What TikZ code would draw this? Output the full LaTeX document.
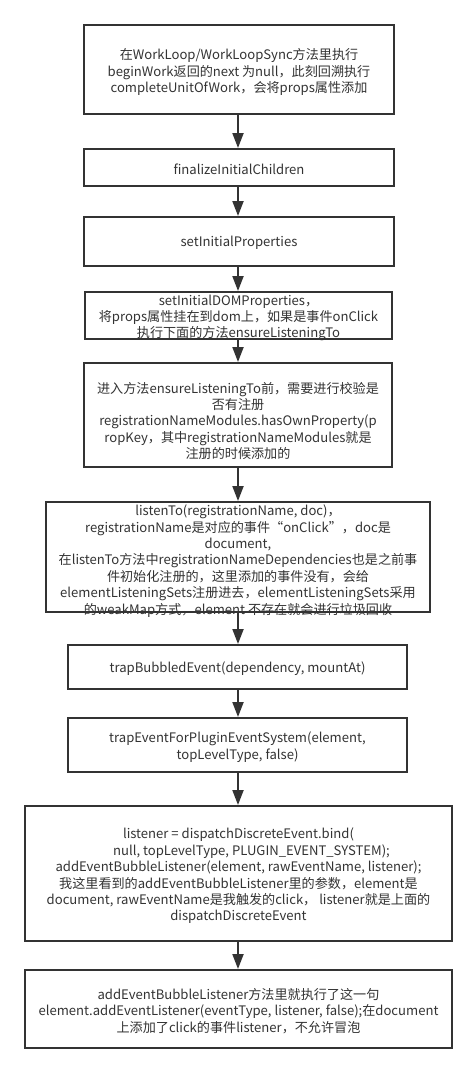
\documentclass[tikz,border=0pt]{standalone}
\usepackage{fontspec}
\setmainfont{Noto Sans CJK SC}
\usetikzlibrary{arrows.meta}
\definecolor{ink}{HTML}{333333}
\begin{document}
\begin{tikzpicture}[x=1pt,y=-1pt,
  box/.style={draw=ink,line width=2pt,rectangle,inner sep=0pt},
  txt/.style={text=ink,align=center,inner sep=0pt,font=\fontsize{13.1}{16.4}\selectfont},
  arr/.style={draw=ink,line width=2pt,-{Triangle[length=15pt,width=11pt]}}]
\useasboundingbox[fill=white] (0,0) rectangle (476,1074);
\node[box,minimum width=310pt,minimum height=89pt] (b1) at (239,69.5) {};
\node[box,minimum width=310pt,minimum height=37pt] (b2) at (239,167.5) {};
\node[box,minimum width=310pt,minimum height=49pt] (b3) at (239,241.5) {};
\node[box,minimum width=307pt,minimum height=47pt] (b4) at (238.5,315.5) {};
\node[box,minimum width=308pt,minimum height=104pt] (b5) at (238,415) {};
\node[box,minimum width=384pt,minimum height=110pt] (b6) at (238,557) {};
\node[box,minimum width=339pt,minimum height=44pt] (b7) at (237.5,667) {};
\node[box,minimum width=339pt,minimum height=54pt] (b8) at (237.5,745) {};
\node[box,minimum width=427pt,minimum height=135pt] (b9) at (238.5,873.5) {};
\node[box,minimum width=427pt,minimum height=78pt] (b10) at (238.5,1009) {};

\node[txt] (t1) at (239,72) {在WorkLoop/WorkLoopSync方法里执行\\beginWork返回的next 为null，此刻回溯执行\\completeUnitOfWork，会将props属性添加};
\node[txt] (t2) at (239,169) {finalizeInitialChildren};
\node[txt] (t3) at (239,243) {setInitialProperties};
\node[txt] (t4) at (238.5,318) {setInitialDOMProperties，\\将props属性挂在到dom上，如果是事件onClick\\执行下面的方法ensureListeningTo};
\node[txt] (t5) at (238,421) {进入方法ensureListeningTo前，需要进行校验是\\否有注册\\registrationNameModules.hasOwnProperty(p\\ropKey，其中registrationNameModules就是\\注册的时候添加的};
\node[txt] (t6) at (238,561) {listenTo(registrationName, doc)，\\registrationName是对应的事件“onClick”，doc是\\document,\\在listenTo方法中registrationNameDependencies也是之前事\\件初始化注册的，这里添加的事件没有，会给\\elementListeningSets注册进去，elementListeningSets采用\\的weakMap方式，element 不存在就会进行垃圾回收};
\node[txt] (t7) at (237.5,669) {trapBubbledEvent(dependency, mountAt)};
\node[txt] (t8) at (237.5,747) {trapEventForPluginEventSystem(element,\\topLevelType, false)};
\node[txt] (t9) at (238.5,876) {listener = dispatchDiscreteEvent.bind(\\\hspace*{26pt}null, topLevelType, PLUGIN\_EVENT\_SYSTEM);\\addEventBubbleListener(element, rawEventName, listener);\\我这里看到的addEventBubbleListener里的参数，element是\\document, rawEventName是我触发的click， listener就是上面的\\dispatchDiscreteEvent};
\node[txt] (t10) at (238.5,1011) {addEventBubbleListener方法里就执行了这一句\\element.addEventListener(eventType, listener, false);在document\\上添加了click的事件listener，不允许冒泡};

\draw[arr] (238,0 |- b1.south) -- (238,0 |- b2.north);
\draw[arr] (238,0 |- b2.south) -- (238,0 |- b3.north);
\draw[arr] (238,0 |- b3.south) -- (238,0 |- b4.north);
\draw[arr] (238,0 |- b4.south) -- (238,0 |- b5.north);
\draw[arr] (238,0 |- b5.south) -- (238,0 |- b6.north);
\draw[arr] (238,0 |- b6.south) -- (238,0 |- b7.north);
\draw[arr] (238,0 |- b7.south) -- (238,0 |- b8.north);
\draw[arr] (238,0 |- b8.south) -- (238,0 |- b9.north);
\draw[arr] (238,0 |- b9.south) -- (238,0 |- b10.north);
\end{tikzpicture}
\end{document}
